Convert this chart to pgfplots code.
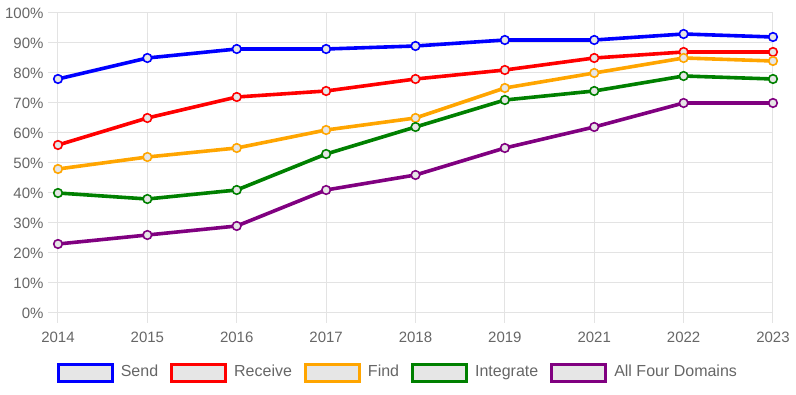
\documentclass[border=0pt]{standalone}
\usepackage{pgfplots}
\pgfplotsset{compat=1.18}
\usepackage{fontspec}
\setmainfont{Liberation Sans}
\definecolor{txt}{HTML}{666666}
\definecolor{gridc}{HTML}{E3E3E3}
\definecolor{lg}{HTML}{E6E6E6}
\definecolor{cBlue}{RGB}{0,0,255}
\definecolor{cRed}{RGB}{255,0,0}
\definecolor{cOrange}{RGB}{255,165,0}
\definecolor{cGreen}{RGB}{0,128,0}
\definecolor{cPurple}{RGB}{128,0,128}
\begin{document}
\begin{tikzpicture}
\begin{axis}[
  scale only axis, width=715pt, height=300pt,
  xmin=0, xmax=8, ymin=0, ymax=100,
  xtick={0,...,8},
  xticklabels={2014,2015,2016,2017,2018,2019,2021,2022,2023},
  ytick={0,10,...,100},
  yticklabel={\pgfmathprintnumber[assume math mode=true]{\tick}\%},
  grid=major, grid style={gridc, line width=1pt},
  axis line style={draw=none},
  tick align=outside, major tick length=10pt,
  tick style={gridc, line width=1pt},
  xtick pos=bottom, ytick pos=left,
  ticklabel style={font=\fontsize{15}{18}\selectfont, text=txt},
  yticklabel style={xshift=-1pt},
  xticklabel style={yshift=-5pt},
  clip=false,
  every axis plot/.append style={line width=3.6pt, mark=*, mark size=4.3pt,
     mark options={fill=lg, line width=1.6pt}},
  legend style={at={(0.474,-0.2)}, anchor=center, draw=none, fill=none,
     font=\fontsize{16}{19}\selectfont, text=txt, inner sep=0pt,
     nodes={inner xsep=0pt, text height=11.5pt, text depth=3.5pt},
     /tikz/every odd column/.append style={column sep=7pt},
     /tikz/every even column/.append style={column sep=12pt}},
  legend columns=5,
  legend image code/.code={\draw[line width=3pt, fill=lg, solid] (0pt,-8.5pt) rectangle (54pt,8.5pt);},
]
\addplot[cBlue] coordinates {(0,78)(1,85)(2,88)(3,88)(4,89)(5,91)(6,91)(7,93)(8,92)};
\addlegendentry{Send}
\addplot[cRed] coordinates {(0,56)(1,65)(2,72)(3,74)(4,78)(5,81)(6,85)(7,87)(8,87)};
\addlegendentry{Receive}
\addplot[cOrange] coordinates {(0,48)(1,52)(2,55)(3,61)(4,65)(5,75)(6,80)(7,85)(8,84)};
\addlegendentry{Find}
\addplot[cGreen] coordinates {(0,40)(1,38)(2,41)(3,53)(4,62)(5,71)(6,74)(7,79)(8,78)};
\addlegendentry{Integrate}
\addplot[cPurple] coordinates {(0,23)(1,26)(2,29)(3,41)(4,46)(5,55)(6,62)(7,70)(8,70)};
\addlegendentry{All Four Domains}
\end{axis}
\path[use as bounding box] (-58pt,-82pt) rectangle (738pt,313pt);
\end{tikzpicture}
\end{document}
